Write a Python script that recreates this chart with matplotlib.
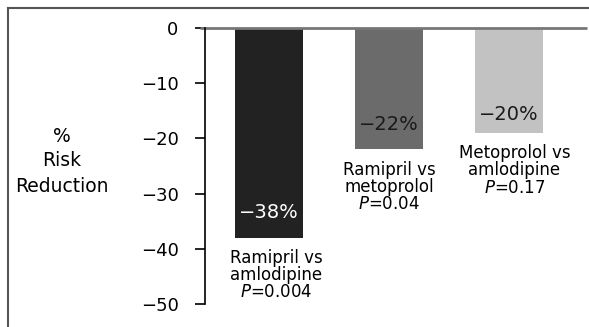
import numpy as np
import matplotlib
matplotlib.use("Agg")
import matplotlib.pyplot as plt
from matplotlib.lines import Line2D

# Data
comparisons = ["Ramipril vs\namlodipine", "Ramipril vs\nmetoprolol", "Metoprolol vs\namlodipine"]
reductions = [-38, -22, -19]
value_labels = ["\u221238%", "\u221222%", "\u221220%"]
p_values = ["0.004", "0.04", "0.17"]
yticks = [0, -10, -20, -30, -40, -50]
ytick_labels = ["0", "\u221210", "\u221220", "\u221230", "\u221240", "\u221250"]

bar_colors = ["#222222", "#6b6b6b", "#c2c2c2"]
value_colors = ["white", "#1a1a1a", "#1a1a1a"]
value_dy = [14, 14, 9]      # points above bar end
label_dx = [5, 0, 4]        # points

plt.rcParams['font.family'] = ['DejaVu Sans']
plt.rcParams['mathtext.fontset'] = 'dejavusans'

fig = plt.figure(figsize=(5.89, 3.27), dpi=100)
W, H = 589, 327
ax = fig.add_axes([205 / W, 1 - 304 / H, (587 - 205) / W, (304 - 28) / H])

x = np.arange(len(reductions))
ax.bar(x, reductions, width=0.56, color=bar_colors, edgecolor='none')

ax.set_ylim(-50, 0)
ax.set_xlim(-0.533, 2.65)
ax.set_yticks(yticks)
ax.set_yticklabels(ytick_labels)
ax.tick_params(axis='y', length=7, width=1.2, pad=12, labelsize=13, colors='black')
ax.set_xticks([])
for s in ['top', 'right', 'bottom']:
    ax.spines[s].set_visible(False)
ax.spines['left'].set_linewidth(1.2)

# zero line
ax.plot([-0.013, 1.0], [0, 0], transform=ax.get_yaxis_transform(), color='#777777',
        lw=2, clip_on=False, solid_capstyle='butt')

for i, v in enumerate(reductions):
    ax.annotate(value_labels[i], xy=(x[i], v), xytext=(0, value_dy[i]),
                textcoords='offset points', ha='center', va='baseline',
                fontsize=14, color=value_colors[i])
    ax.annotate(comparisons[i] + "\n" + r"$\mathit{P}$=" + p_values[i],
                xy=(x[i], v), xytext=(label_dx[i], -8), textcoords='offset points',
                ha='center', va='top', fontsize=12, linespacing=0.95,
                multialignment='center', annotation_clip=False)

fig.text(62 / W, 1 - 161 / H, "%\nRisk\nReduction", ha='center', va='center',
         fontsize=13.5, linespacing=1.4)

# outer frame (left and top)
fig.add_artist(Line2D([8 / W, 8 / W], [0, 1 - 8 / H], color='#555555', lw=1.5))
fig.add_artist(Line2D([8 / W, 1], [1 - 8 / H, 1 - 8 / H], color='#555555', lw=1.5))

fig.savefig("out.png", dpi=100)
